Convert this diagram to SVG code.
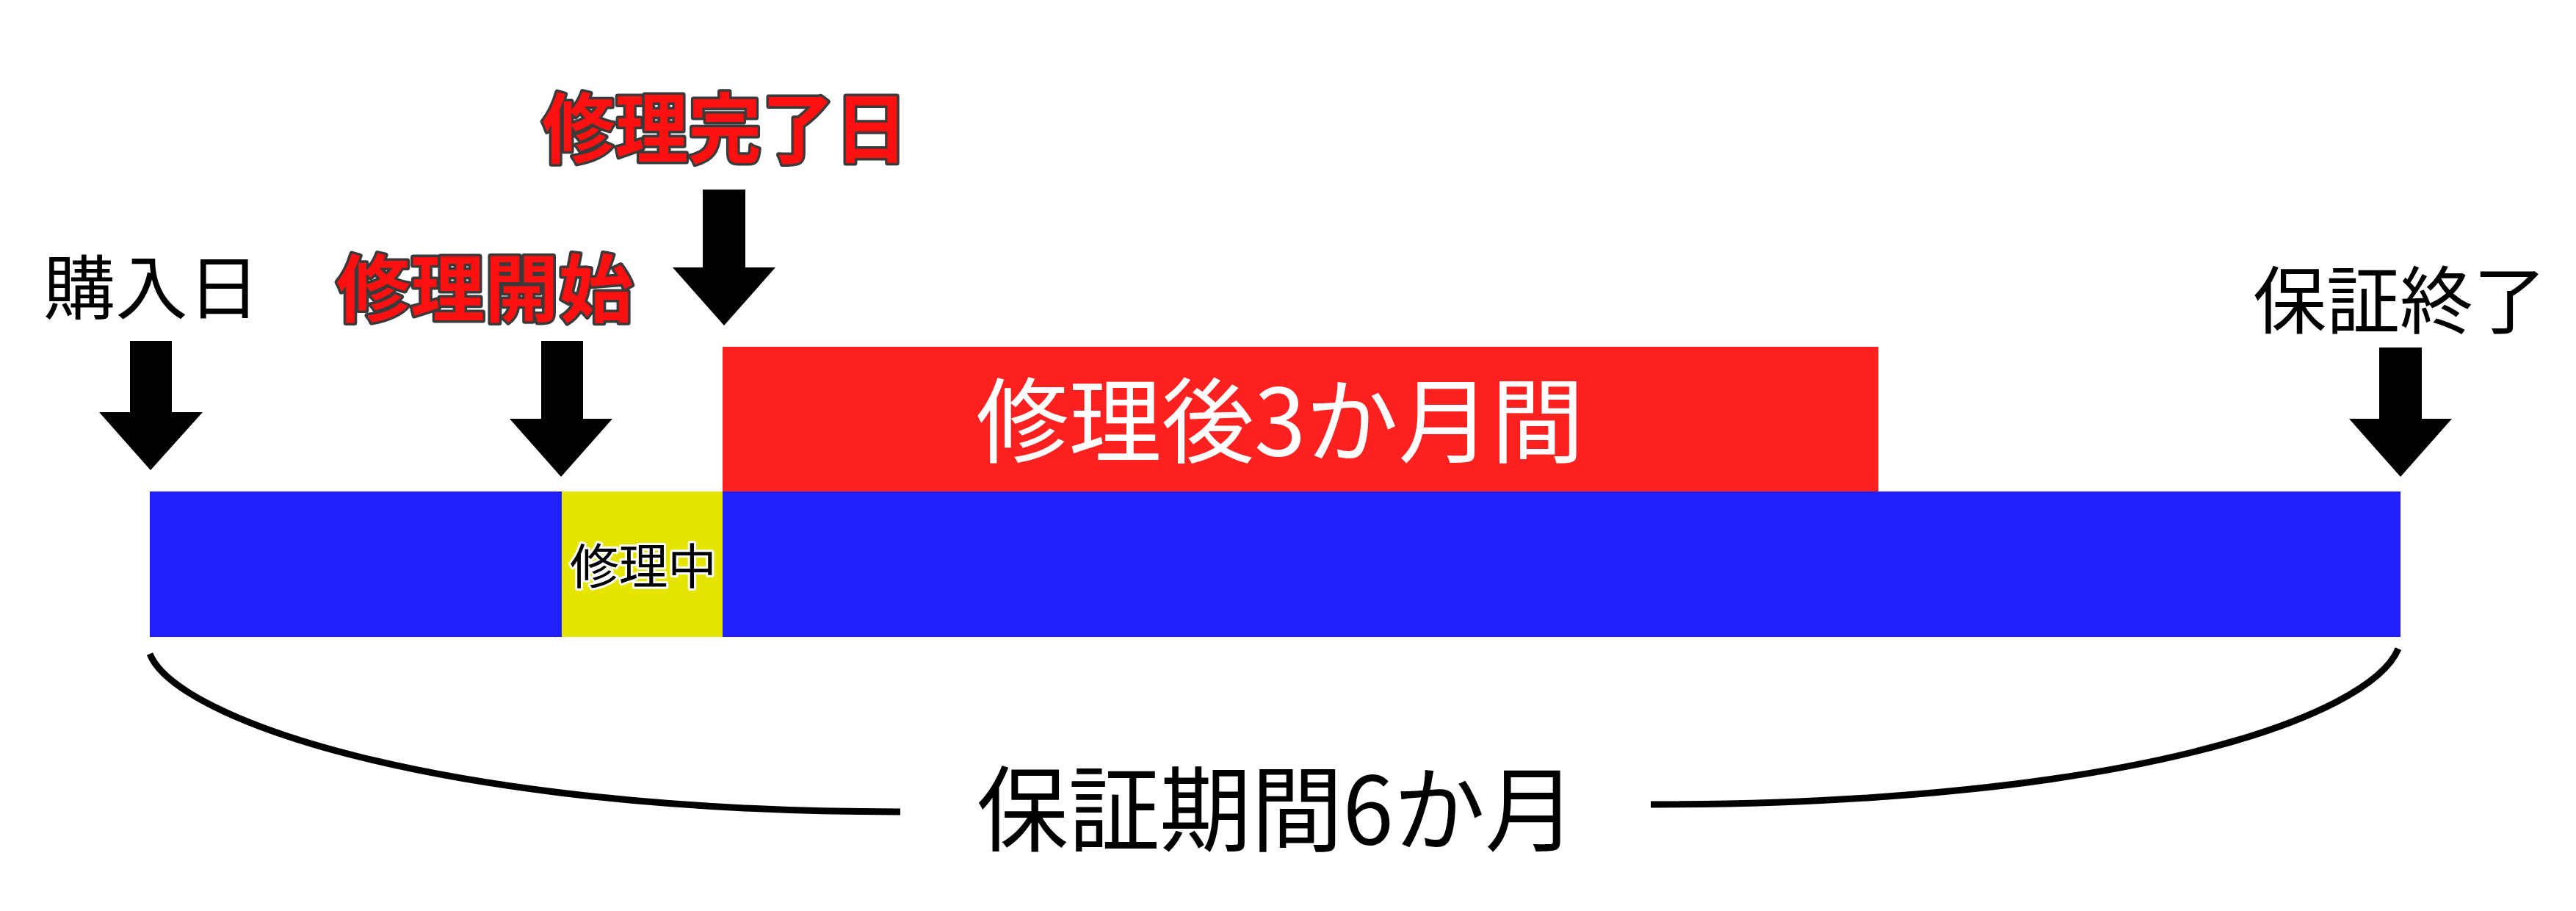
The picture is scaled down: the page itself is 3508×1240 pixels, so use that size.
<svg xmlns="http://www.w3.org/2000/svg" width="3508" height="1240" viewBox="0 0 3508 1240">
<style>
.t{font-family:"Noto Sans CJK JP","Noto Sans CJK SC",sans-serif;}
.blk{fill:#000;}
.red{fill:#ff1010;stroke:#3a3a3a;stroke-width:7;stroke-linejoin:round;paint-order:stroke;font-weight:bold;}
.wht{fill:#fff;}
.halo{fill:#000;stroke:#fff;stroke-width:6;stroke-linejoin:round;paint-order:stroke;}
.arrow{fill:#000;}
.brace{fill:none;stroke:#000;stroke-width:9;}
</style>
<rect width="3508" height="1240" fill="#fff"/>
<g id="bar-before">
<rect x="204" y="669" width="562" height="198" fill="#2020ff"/>
</g>
<g id="bar-repair">
<rect x="765" y="669" width="220" height="198" fill="#e5e500"/>
<text class="t halo" x="776" y="795" font-size="66" textLength="200" lengthAdjust="spacingAndGlyphs">修理中</text>
</g>
<g id="bar-after">
<rect x="984" y="669" width="2285" height="198" fill="#2020ff"/>
</g>
<g id="after3">
<rect x="984" y="472" width="1574" height="197" fill="#ff2020"/>
<text class="t wht" x="1329" y="620" font-size="126" textLength="828" lengthAdjust="spacingAndGlyphs">修理後3か月間</text>
</g>
<g id="label-purchase">
<text class="t blk" x="59" y="427" font-size="95" textLength="295" lengthAdjust="spacingAndGlyphs">購入日</text>
</g>
<g id="label-start">
<text class="t red" x="458" y="430" font-size="100" textLength="404" lengthAdjust="spacingAndGlyphs">修理開始</text>
</g>
<g id="label-done">
<text class="t red" x="738" y="214" font-size="104" textLength="498" lengthAdjust="spacingAndGlyphs">修理完了日</text>
</g>
<g id="label-end">
<text class="t blk" x="3068" y="446" font-size="100" textLength="400" lengthAdjust="spacingAndGlyphs">保証終了</text>
</g>
<g id="label-period">
<text class="t blk" x="1330" y="1149" font-size="127" textLength="817" lengthAdjust="spacingAndGlyphs">保証期間6か月</text>
</g>
<g id="connectors">
<polygon class="arrow" points="177,464 234,464 234,561 276,561 205,640 135,561 177,561"/>
<polygon class="arrow" points="737,464 794,464 794,570 834,570 764,649 694,570 737,570"/>
<polygon class="arrow" points="957,258 1015,258 1015,364 1056,364 986,443 916,364 957,364"/>
<polygon class="arrow" points="3240,473 3298,473 3298,570 3339,570 3269,649 3199,570 3240,570"/>
<path class="brace" d="M204,890 C240,980 600,1105 1226,1105"/>
<path class="brace" d="M2248,1095 C2900,1095 3228,975 3266,883"/>
</g>
</svg>
